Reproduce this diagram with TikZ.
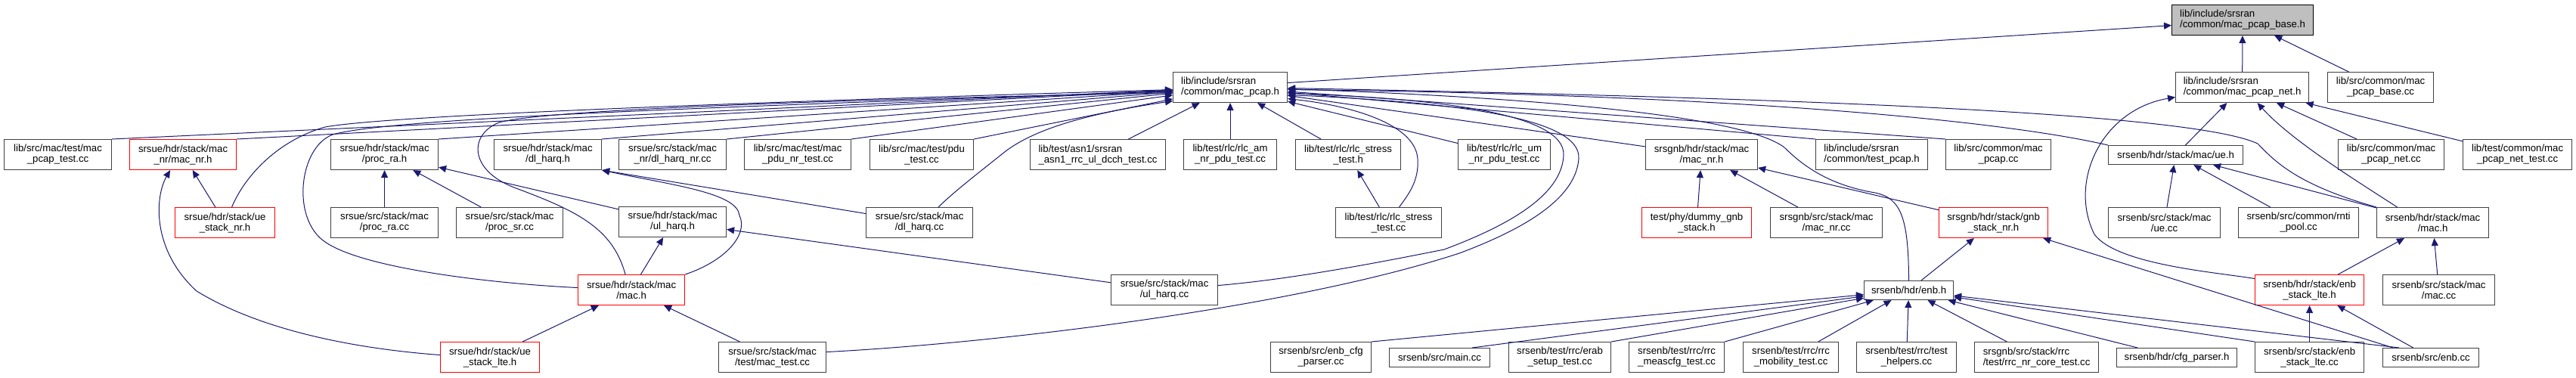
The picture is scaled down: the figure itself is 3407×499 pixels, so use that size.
\documentclass[tikz,border=0pt]{standalone}
\usepackage{fontspec}
\setmainfont{Liberation Sans}
\usetikzlibrary{arrows.meta}
\definecolor{dgedge}{HTML}{191970}
\definecolor{dgframe}{HTML}{404040}
\definecolor{dgtrunc}{HTML}{FF0000}
\definecolor{dgroot}{HTML}{BFBFBF}
\tikzset{
  dg node/.style={anchor=north west, inner sep=1pt, line width=1.1pt, align=center,
                  font=\fontsize{13.2}{14}\selectfont},
  dg file/.style={dg node, draw=dgframe, fill=white},
  dg left/.style={dg file, align=left},
  dg trunc/.style={dg node, draw=dgtrunc, fill=white},
  dg root/.style={dg node, draw=black, fill=dgroot, align=left},
  dg edge/.style={<-, >={Triangle[length=10pt,width=9pt]}, draw=dgedge, line width=1pt},
}
\begin{document}
\begin{tikzpicture}[x=1pt, y=-1pt]
  \useasboundingbox (0,0) rectangle (3407,499);
  \node[dg root, minimum width=187pt, minimum height=40pt] (base) at (2872,6) {lib/include/srsran\\/common/mac\_pcap\_base.h};
  \foreach \nm/\xa/\ya/\wdt/\hgt/\txt in {
      mpcap/1551/95/151/40/{lib/include/srsran\\/common/mac\_pcap.h},
      netH/2877/95/176/40/{lib/include/srsran\\/common/mac\_pcap\_net.h},
      asn1/1362/184/179/40/{lib/test/asn1/srsran\\\_asn1\_rrc\_ul\_dcch\_test.cc},
      tpcap/2401/184/148/40/{lib/include/srsran\\/common/test\_pcap.h},
      nrcore/2611/452/164/40/{srsgnb/src/stack/rrc\\/test/rrc\_nr\_core\_test.cc}} {
    \node[dg left, minimum width=\wdt pt, minimum height=\hgt pt] (\nm) at (\xa,\ya) {\txt};
  }
  \foreach \nm/\xa/\ya/\wdt/\hgt/\txt in {
      umacnr/171/184/141/40/{srsue/hdr/stack/mac\\\_nr/mac\_nr.h},
      uestacknr/231/274/132/40/{srsue/hdr/stack/ue\\\_stack\_nr.h},
      dummy/2171/274/145/40/{test/phy/dummy\_gnb\\\_stack.h},
      gnbstack/2564/274/144/40/{srsgnb/hdr/stack/gnb\\\_stack\_nr.h},
      umac/764/363/141/40/{srsue/hdr/stack/mac\\/mac.h},
      stackH/2982/363/144/40/{srsenb/hdr/stack/enb\\\_stack\_lte.h},
      uestacklte/582/452/131/40/{srsue/hdr/stack/ue\\\_stack\_lte.h}} {
    \node[dg trunc, minimum width=\wdt pt, minimum height=\hgt pt] (\nm) at (\xa,\ya) {\txt};
  }
  \foreach \nm/\xa/\ya/\wdt/\hgt/\txt in {
      basecc/3078/95/140/40/{lib/src/common/mac\\\_pcap\_base.cc},
      pcaptest/5/184/142/40/{lib/src/mac/test/mac\\\_pcap\_test.cc},
      procraH/437/184/142/40/{srsue/hdr/stack/mac\\/proc\_ra.h},
      dlharqH/653/184/142/40/{srsue/hdr/stack/mac\\/dl\_harq.h},
      dlnrcc/818/184/142/40/{srsue/src/stack/mac\\\_nr/dl\_harq\_nr.cc},
      pdunr/984/184/141/40/{lib/src/mac/test/mac\\\_pdu\_nr\_test.cc},
      pdutest/1150/184/137/40/{lib/src/mac/test/pdu\\\_test.cc},
      rlcam/1565/184/123/40/{lib/test/rlc/rlc\_am\\\_nr\_pdu\_test.cc},
      rlcsh/1713/184/139/40/{lib/test/rlc/rlc\_stress\\\_test.h},
      rlcum/1928/184/122/40/{lib/test/rlc/rlc\_um\\\_nr\_pdu\_test.cc},
      gmacH/2176/184/148/40/{srsgnb/hdr/stack/mac\\/mac\_nr.h},
      pcapcc/2573/184/139/40/{lib/src/common/mac\\\_pcap.cc},
      ueH/2788/192/178/25/{srsenb/hdr/stack/mac/ue.h},
      netcc/3092/184/140/40/{lib/src/common/mac\\\_pcap\_net.cc},
      nettest/3257/184/144/40/{lib/test/common/mac\\\_pcap\_net\_test.cc},
      procracc/437/274/142/40/{srsue/src/stack/mac\\/proc\_ra.cc},
      procsrcc/603/274/141/40/{srsue/src/stack/mac\\/proc\_sr.cc},
      ulharqH/818/273/142/40/{srsue/hdr/stack/mac\\/ul\_harq.h},
      dlcc/1145/274/141/40/{srsue/src/stack/mac\\/dl\_harq.cc},
      rlcscc/1766/274/140/40/{lib/test/rlc/rlc\_stress\\\_test.cc},
      gmaccc/2341/274/148/40/{srsgnb/src/stack/mac\\/mac\_nr.cc},
      uecc/2788/274/148/40/{srsenb/src/stack/mac\\/ue.cc},
      rnti/2960/274/159/40/{srsenb/src/common/rnti\\\_pool.cc},
      macH/3143/274/148/40/{srsenb/hdr/stack/mac\\/mac.h},
      ulcc/1469/363/141/40/{srsue/src/stack/mac\\/ul\_harq.cc},
      enbH/2465/371/118/25/{srsenb/hdr/enb.h},
      maccc/3151/363/148/40/{srsenb/src/stack/mac\\/mac.cc},
      mactest/950/452/142/40/{srsue/src/stack/mac\\/test/mac\_test.cc},
      cfgcc/1680/452/133/40/{srsenb/src/enb\_cfg\\\_parser.cc},
      maincc/1837/460/133/25/{srsenb/src/main.cc},
      erab/1995/452/135/40/{srsenb/test/rrc/erab\\\_setup\_test.cc},
      meascfg/2154/452/126/40/{srsenb/test/rrc/rrc\\\_meascfg\_test.cc},
      mobility/2305/452/126/40/{srsenb/test/rrc/rrc\\\_mobility\_test.cc},
      helpers/2455/452/132/40/{srsenb/test/rrc/test\\\_helpers.cc},
      cfgh/2799/460/159/25/{srsenb/hdr/cfg\_parser.h},
      stackcc/2982/452/144/40/{srsenb/src/stack/enb\\\_stack\_lte.cc},
      enbcc/3151/460/127/25/{srsenb/src/enb.cc}} {
    \node[dg file, minimum width=\wdt pt, minimum height=\hgt pt] (\nm) at (\xa,\ya) {\txt};
  }
  % root and mac_pcap_net.h
  \draw[dg edge] ([yshift=-7pt]base.west) -- ([yshift=6pt]mpcap.east);
  \draw[dg edge] (base) -- (netH);
  \draw[dg edge] (base) -- (basecc);
  \draw[dg edge] (netH) -- (ueH);
  \draw[dg edge] (netH) -- (netcc);
  \draw[dg edge] (netH) -- (nettest);
  \draw[dg edge] ([xshift=20pt]netH.south) .. controls (3030,185) and (3110,235) .. ([xshift=-47pt]macH.north);
  \draw[dg edge] ([yshift=-13pt]netH.west) .. controls (2780,145) and (2735,240) .. (2770,310)
     .. controls (2800,350) and (2930,360) .. ([yshift=15pt]stackH.west);
  \draw[dg edge] (ueH) -- (uecc);
  \draw[dg edge] (ueH) -- (rnti);
  \draw[dg edge] (ueH) -- (macH);
  \draw[dg edge] (macH) -- (stackH);
  \draw[dg edge] (macH) -- (maccc);
  \draw[dg edge] (stackH) -- (stackcc);
  \draw[dg edge] (stackH) -- (enbcc);
  % mac_pcap.h
  \draw[dg edge] (mpcap) -- (pcaptest.north east);
  \draw[dg edge] (mpcap) -- (umacnr.north east);
  \draw[dg edge] (mpcap) -- (procraH.north east);
  \draw[dg edge] (mpcap) -- (dlharqH.north east);
  \draw[dg edge] (mpcap) -- (dlnrcc.north east);
  \draw[dg edge] (mpcap) -- (pdunr.north east);
  \draw[dg edge] (mpcap) -- (pdutest.north east);
  \draw[dg edge] (mpcap) -- (asn1);
  \draw[dg edge] (mpcap) -- (rlcam);
  \draw[dg edge] (mpcap) -- (rlcsh);
  \draw[dg edge] (mpcap) -- (rlcum);
  \draw[dg edge] (mpcap) -- (gmacH);
  \draw[dg edge] (mpcap) -- (tpcap.north west);
  \draw[dg edge] (mpcap) -- (pcapcc.north west);
  \draw[dg edge] ([yshift=-3pt]mpcap.east) .. controls (2300,125) and (2650,160) .. (ueH.north west);
  \draw[dg edge] ([yshift=-1pt]mpcap.east) .. controls (2400,130) and (2900,150) .. (2986,190)
     .. controls (3010,215) and (3040,245) .. (macH.north west);
  \draw[dg edge] ([yshift=-2pt]mpcap.east) .. controls (2000,128) and (2300,150) .. (2360,195)
     .. controls (2385,220) and (2420,245) .. (2480,255) .. controls (2515,262) and (2524,290) .. (enbH.north);
  \draw[dg edge] ([yshift=-15pt]mpcap.east) .. controls (1790,140) and (1872,165) .. (1875,210)
     .. controls (1877,240) and (1862,258) .. ([xshift=14pt]rlcscc.north);
  \draw[dg edge] ([yshift=-8pt]mpcap.east) .. controls (1900,130) and (2070,150) .. (2068,205)
     .. controls (2066,260) and (1990,300) .. (1910,330) .. controls (1800,352) and (1700,370) .. ([yshift=6pt]ulcc.east);
  \draw[dg edge] ([yshift=-10pt]mpcap.east) .. controls (1920,135) and (2092,155) .. (2088,210)
     .. controls (2084,265) and (2010,305) .. (1930,335) .. controls (1700,410) and (1300,455) .. ([yshift=7pt]mactest.east);
  \draw[dg edge] ([yshift=-18pt]mpcap.west) .. controls (1440,150) and (1370,170) .. (1330,200)
     .. controls (1295,228) and (1260,255) .. ([xshift=25pt]dlcc.north);
  \draw[dg edge] ([yshift=-3pt]mpcap.west) .. controls (1000,135) and (520,152) .. (430,168)
     .. controls (370,185) and (325,230) .. ([xshift=9pt]uestacknr.north);
  \draw[dg edge] ([yshift=-5pt]mpcap.west) .. controls (1000,140) and (520,155) .. (440,178)
     .. controls (395,195) and (385,290) .. (430,320) .. controls (480,355) and (650,375) .. ([yshift=3pt]umac.west);
  \draw[dg edge] ([yshift=-7pt]mpcap.west) .. controls (1100,132) and (720,145) .. (660,162)
     .. controls (620,178) and (620,225) .. (680,248) .. controls (760,278) and (810,300) .. ([xshift=-8pt]umac.north);
  % srsue
  \draw[dg edge] (umacnr) -- (uestacknr);
  \draw[dg edge] ([xshift=-17pt]umacnr.south) .. controls (205,260) and (200,330) .. (260,385)
     .. controls (350,440) and (480,462) .. ([yshift=3pt]uestacklte.west);
  \draw[dg edge] (procraH) -- (procracc);
  \draw[dg edge] (procraH) -- (procsrcc);
  \draw[dg edge] (procraH) -- (ulharqH);
  \draw[dg edge] (dlharqH.south east) .. controls (890,245) and (975,255) .. (978,285)
     .. controls (990,310) and (960,345) .. (umac.north east);
  \draw[dg edge] (dlharqH.south east) -- ([yshift=12pt]dlcc.west);
  \draw[dg edge] (ulharqH) -- (umac);
  \draw[dg edge] (ulharqH) -- (ulcc);
  \draw[dg edge] (umac) -- (uestacklte);
  \draw[dg edge] (umac) -- (mactest);
  \draw[dg edge] (rlcsh) -- (rlcscc);
  % srsgnb and enb.h
  \draw[dg edge] (gmacH) -- (dummy);
  \draw[dg edge] (gmacH) -- (gmaccc);
  \draw[dg edge] (gmacH) -- (gnbstack);
  \draw[dg edge] (gnbstack) -- (enbH);
  \draw[dg edge] (gnbstack) -- ([xshift=-50pt]enbcc.north);
  \draw[dg edge] (enbH) -- (cfgcc.north east);
  \draw[dg edge] (enbH) -- ([xshift=43pt]maincc.north);
  \draw[dg edge] (enbH) -- (erab.north east);
  \draw[dg edge] (enbH) -- (meascfg.north east);
  \draw[dg edge] (enbH) -- (mobility);
  \draw[dg edge] (enbH) -- (helpers);
  \draw[dg edge] (enbH) -- (nrcore);
  \draw[dg edge] (enbH) -- (cfgh);
  \draw[dg edge] (enbH) -- (stackcc.north west);
  \draw[dg edge] (enbH) -- ([xshift=-42pt]enbcc.north);
\end{tikzpicture}
\end{document}
